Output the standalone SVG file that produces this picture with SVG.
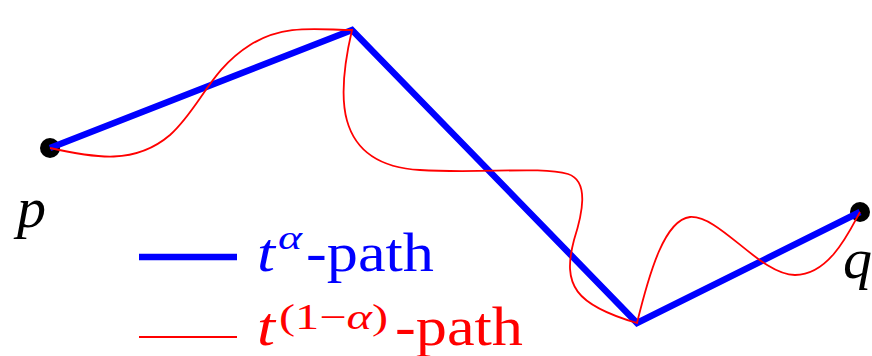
<svg xmlns="http://www.w3.org/2000/svg" width="872" height="356" viewBox="0 0 872 356">
<style>
.blue{fill:none;stroke:#0000ff;stroke-width:6.5;stroke-linejoin:miter;stroke-miterlimit:10}
.red{fill:none;stroke:#ff0000;stroke-width:1.8}
.dot{fill:#000}
text{font-family:"Liberation Serif","Times New Roman",serif}
.lbl{font-size:58px;font-style:italic;fill:#000}
.big{font-size:54px}
.it{font-style:italic}
</style>
<rect width="872" height="356" fill="#fff"/>
<g id="node-p">
<circle class="dot" cx="50" cy="148" r="10"/>
<text class="lbl" x="17" y="227">p</text>
</g>
<g id="node-q">
<circle class="dot" cx="860" cy="212" r="10"/>
<text class="lbl" x="843" y="278">q</text>
</g>
<g id="connectors">
<path id="t-alpha-path" class="blue" d="M50,148 L352,30 L637,323 L860,212"/>
<path id="t-1-alpha-path" class="red" d="M50,148 C95,158 135,165 170,135 C200,108 210,70 250,45 C285,23 320,30 352,30 C338,90 330,165 420,170 C480,174 540,166 568,174 C590,181 582,215 574,240 C562,285 575,305 637,323 C650,270 665,220 690,217 C720,215 760,275 795,275 C830,275 850,230 860,212"/>
</g>
<g id="legend">
<line x1="139" y1="257" x2="237" y2="257" stroke="#0000ff" stroke-width="6.5"/>
<text class="big it" x="257" y="271" fill="#0000ff" textLength="18" lengthAdjust="spacingAndGlyphs">t</text>
<text class="it" x="278" y="249" fill="#0000ff" font-size="34" textLength="24" lengthAdjust="spacingAndGlyphs">α</text>
<text class="big" x="306" y="271" fill="#0000ff" textLength="128" lengthAdjust="spacingAndGlyphs">-path</text>
<line x1="139" y1="337" x2="237" y2="337" stroke="#ff0000" stroke-width="1.8"/>
<text class="big it" x="257" y="345" fill="#ff0000" textLength="18" lengthAdjust="spacingAndGlyphs">t</text>
<text x="279" y="329" fill="#ff0000" font-size="36" textLength="109" lengthAdjust="spacingAndGlyphs">(1−<tspan class="it">α</tspan>)</text>
<text class="big" x="395" y="345" fill="#ff0000" textLength="128" lengthAdjust="spacingAndGlyphs">-path</text>
</g>
</svg>
